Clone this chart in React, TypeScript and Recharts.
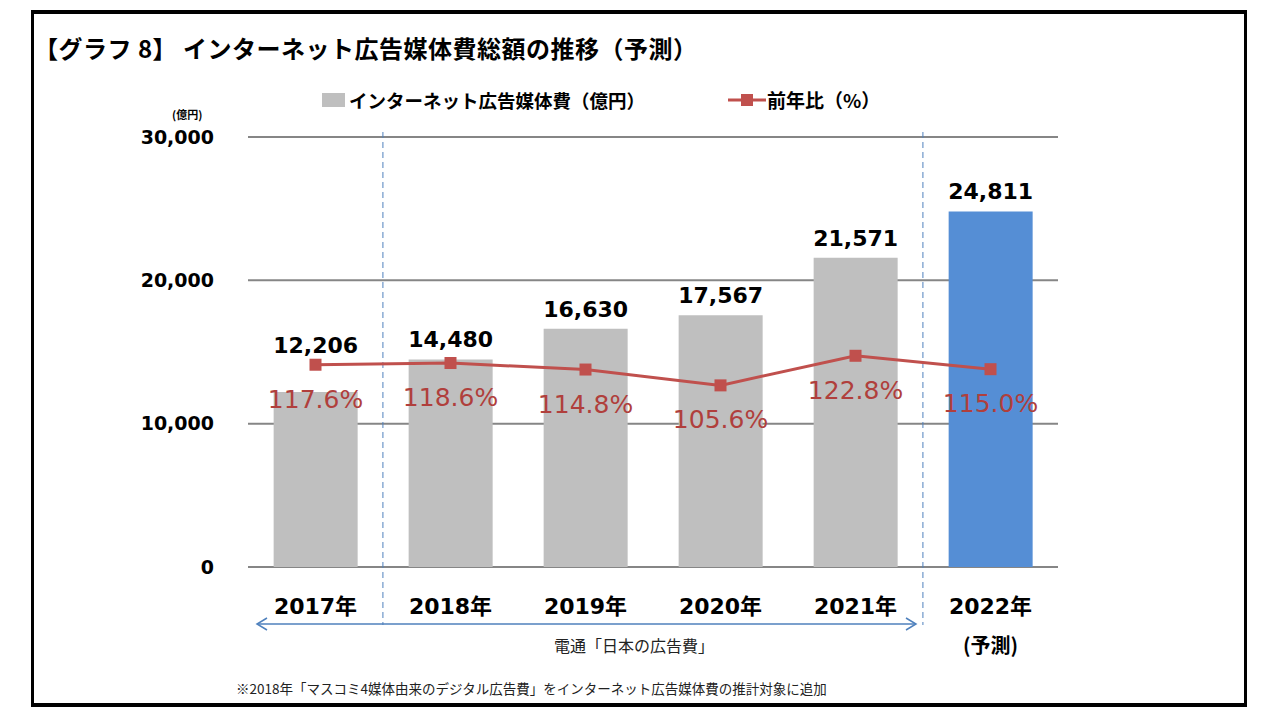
import React from 'react';
import { ComposedChart, Bar, Line, XAxis, YAxis, CartesianGrid, Cell, LabelList, Rectangle } from 'recharts';

const years = ['2017年', '2018年', '2019年', '2020年', '2021年', '2022年'];
const adSpend = [12206, 14480, 16630, 17567, 21571, 24811];
const yoyRatio = [117.6, 118.6, 114.8, 105.6, 122.8, 115.0];
const forecastFlags = [false, false, false, false, false, true];
const yTicks = [0, 10000, 20000, 30000];
const spendDomain = [0, 30000];
const ratioDomain = [0, 250];
// a dashed divider is drawn on the left edge of these categories
const dividerBefore = ['2018年', '2022年'];

const data = years.map((year, i) => ({ year, spend: adSpend[i], ratio: yoyRatio[i], forecast: forecastFlags[i] }));

const CATEGORY_GAP = 0.19;
const NUM_FONT = '"DejaVu Sans", "Noto Sans CJK JP", sans-serif';
const JP_FONT = '"Noto Sans CJK JP", sans-serif';
const GRAY = '#BFBFBF';
const BLUE = '#558ED5';
const RED = '#C0504D';
const RED_TEXT = '#B03F3C';
const GRID = '#868686';
const DIVIDER = '#4F81BD';

const fmt = (v: number) => v.toLocaleString('en-US');

const SpendLabel = (props: any) => {
  const vb = props.viewBox || {};
  const x = props.x ?? vb.x;
  const y = props.y ?? vb.y;
  const width = props.width ?? vb.width;
  const height = props.height ?? vb.height;
  const value = Number(props.value);
  const index = adSpend.indexOf(value);
  if (x == null || y == null || !height) return null;
  const bottom = y + height;
  const plotH = (spendDomain[1] / value) * height;
  const lineY = bottom - (yoyRatio[index] / ratioDomain[1]) * plotH;
  const baseY = Math.min(y, lineY) - 12;
  return (
    <text x={x + width / 2} y={baseY} textAnchor="middle" fontFamily={NUM_FONT} fontWeight="bold" fontSize={22} fill="#000">
      {fmt(value)}
    </text>
  );
};

const RatioLabel = (props: any) => {
  const vb = props.viewBox || {};
  const x = props.x ?? vb.x;
  const y = props.y ?? vb.y;
  if (x == null || y == null) return null;
  return (
    <text x={x} y={y + 43} textAnchor="middle" fontFamily={NUM_FONT} fontSize={25} fill={RED_TEXT}>
      {Number(props.value).toFixed(1)}%
    </text>
  );
};

const SquareDot = (props: any) => {
  const { cx, cy } = props;
  if (cx == null || cy == null) return null;
  return <rect x={cx - 6} y={cy - 6} width={12} height={12} fill={RED} />;
};

const BarWithDivider = (props: any) => {
  const { x, y, width, height, fill, background, payload } = props;
  const showDivider = payload && dividerBefore.includes(payload.year);
  let dx: number | null = null;
  let top = 0;
  let bot = 0;
  if (showDivider) {
    const gap = (width * CATEGORY_GAP) / (1 - 2 * CATEGORY_GAP);
    dx = x - gap;
    bot = y + height;
    top = bot - (spendDomain[1] / payload.spend) * height;
  }
  return (
    <g>
      <Rectangle x={x} y={y} width={width} height={height} fill={fill} />
      {dx != null && (
        <line x1={dx} x2={dx} y1={top - 5} y2={bot + 58} stroke={DIVIDER} strokeWidth={1} strokeDasharray="6 4" />
      )}
    </g>
  );
};

const YearTick = (props: any) => {
  const { x, y, payload } = props;
  const idx = years.indexOf(payload.value);
  return (
    <g>
      <text x={x} y={y + 39} textAnchor="middle" fontFamily={NUM_FONT} fontWeight="bold" fontSize={22} fill="#000">
        {payload.value}
      </text>
      {forecastFlags[idx] && (
        <text x={x} y={y + 78} textAnchor="middle" fontFamily={JP_FONT} fontWeight="bold" fontSize={20} fill="#000">
          (予測)
        </text>
      )}
    </g>
  );
};

export default function App() {
  return (
    <div style={{ position: 'absolute', left: 0, top: 0, width: 1280, height: 720, background: '#fff', overflow: 'hidden' }}>
      <div style={{ position: 'absolute', left: 31, top: 10, width: 1210, height: 689, borderTop: '4px solid #000', borderLeft: '3px solid #000', borderRight: '3px solid #000', borderBottom: '4px solid #000' }} />
      <div style={{ position: 'absolute', left: 34, top: 32, fontFamily: JP_FONT, fontWeight: 'bold', fontSize: 24, color: '#000', whiteSpace: 'nowrap', lineHeight: '32px', letterSpacing: '0.5px' }}>
        【グラフ 8】 インターネット広告媒体費総額の推移（予測）
      </div>
      {/* legend */}
      <div style={{ position: 'absolute', left: 322, top: 93, width: 23, height: 14, background: GRAY }} />
      <div style={{ position: 'absolute', left: 349, top: 86, fontFamily: JP_FONT, fontWeight: 'bold', fontSize: 18.5, lineHeight: '28px', whiteSpace: 'nowrap' }}>
        インターネット広告媒体費（億円）
      </div>
      <svg style={{ position: 'absolute', left: 720, top: 90 }} width={50} height={20}>
        <line x1={8} x2={46} y1={10} y2={10} stroke={RED} strokeWidth={3} />
        <rect x={21} y={4} width={12} height={12} fill={RED} />
      </svg>
      <div style={{ position: 'absolute', left: 767, top: 86, fontFamily: JP_FONT, fontWeight: 'bold', fontSize: 19, lineHeight: '28px', whiteSpace: 'nowrap' }}>
        前年比（%）
      </div>
      <div style={{ position: 'absolute', left: 172, top: 106, fontFamily: JP_FONT, fontWeight: 'bold', fontSize: 11, lineHeight: '16px', whiteSpace: 'nowrap' }}>
        (億円)
      </div>
      <div style={{ position: 'absolute', left: 0, top: 0 }}>
        <ComposedChart width={1280} height={720} data={data} margin={{ top: 137, right: 222, bottom: 93, left: 148 }} barCategoryGap={`${CATEGORY_GAP * 100}%`}>
          <CartesianGrid xAxisId="cat" yAxisId="left" horizontal={true} vertical={false} stroke={GRID} strokeWidth={2} />
          <XAxis xAxisId="cat" dataKey="year" height={60} axisLine={false} tickLine={false} tick={<YearTick />} interval={0} />
          <YAxis yAxisId="left" domain={spendDomain} ticks={yTicks} width={100} axisLine={false} tickLine={false} tickMargin={28} tickFormatter={fmt} tick={{ fontFamily: NUM_FONT, fontWeight: 'bold', fontSize: 19, fill: '#000' }} />
          <YAxis yAxisId="right" orientation="right" domain={ratioDomain} hide />
          <Bar xAxisId="cat" yAxisId="left" dataKey="spend" isAnimationActive={false} shape={<BarWithDivider />}>
            {data.map((d, i) => (
              <Cell key={i} fill={d.forecast ? BLUE : GRAY} />
            ))}
            <LabelList dataKey="spend" content={<SpendLabel />} />
          </Bar>
          <Line xAxisId="cat" yAxisId="right" dataKey="ratio" type="linear" stroke={RED} strokeWidth={3} dot={<SquareDot />} activeDot={false} isAnimationActive={false}>
            <LabelList dataKey="ratio" content={<RatioLabel />} />
          </Line>
        </ComposedChart>
      </div>
      <svg style={{ position: 'absolute', left: 0, top: 0, pointerEvents: 'none' }} width={1280} height={720}>
        <line x1={257} x2={916} y1={624} y2={624} stroke={DIVIDER} strokeWidth={1.5} />
        <polyline points="267,618 257,624 267,630" fill="none" stroke={DIVIDER} strokeWidth={1.5} />
        <polyline points="906,618 916,624 906,630" fill="none" stroke={DIVIDER} strokeWidth={1.5} />
      </svg>
      <div style={{ position: 'absolute', left: 500, width: 268, top: 634, textAlign: 'center', fontFamily: JP_FONT, fontSize: 16, lineHeight: '22px', color: '#222', whiteSpace: 'nowrap' }}>
        電通「日本の広告費」
      </div>
      <div style={{ position: 'absolute', left: 236, top: 679, fontFamily: JP_FONT, fontSize: 13.5, lineHeight: '18px', color: '#222', whiteSpace: 'nowrap' }}>
        ※2018年「マスコミ4媒体由来のデジタル広告費」をインターネット広告媒体費の推計対象に追加
      </div>
    </div>
  );
}
